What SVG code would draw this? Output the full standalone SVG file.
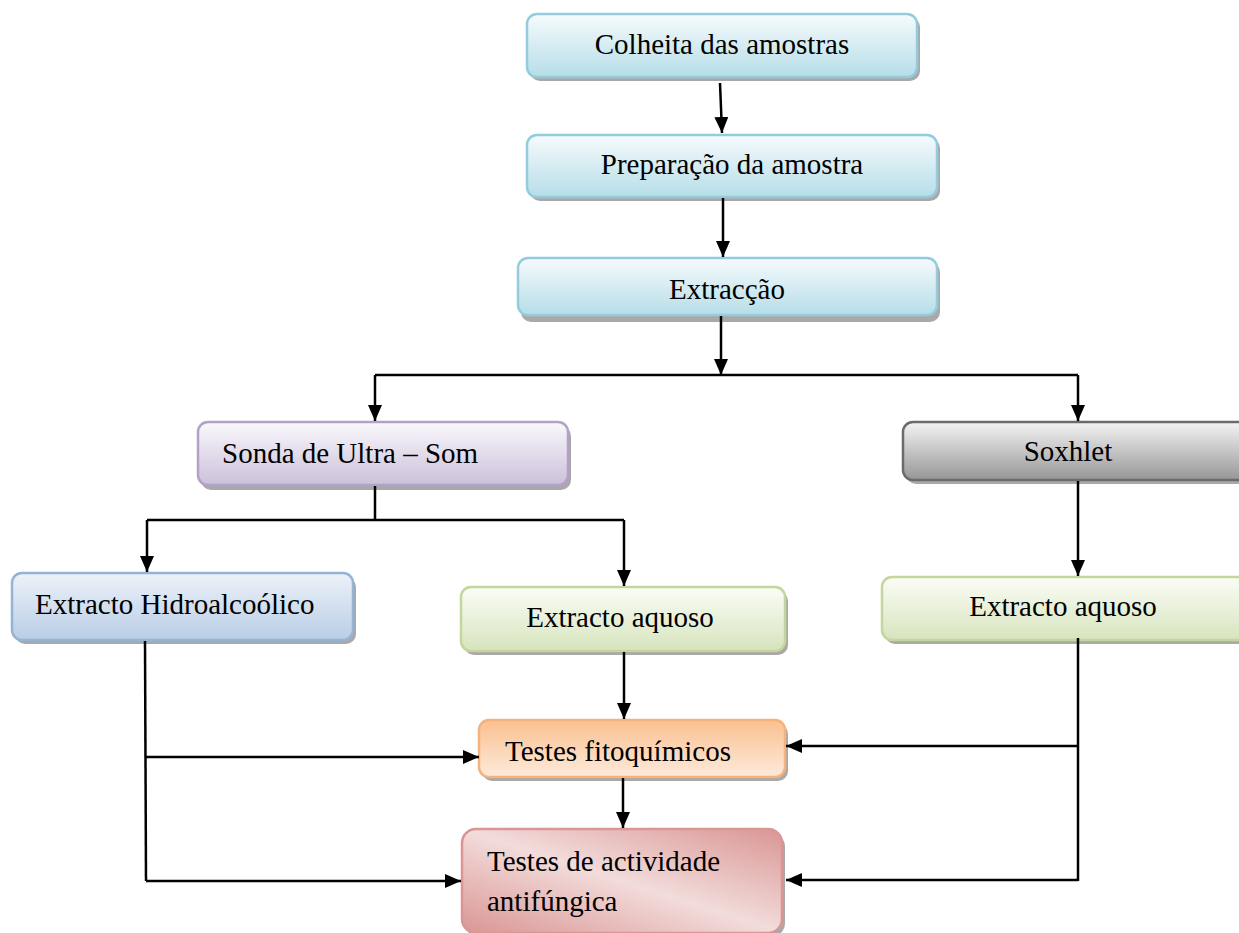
<svg xmlns="http://www.w3.org/2000/svg" width="1239" height="933" viewBox="0 0 1239 933">
<defs>
<linearGradient id="gBlue" x1="0" y1="0" x2="0" y2="1"><stop offset="0" stop-color="#f6fbfd"/><stop offset="1" stop-color="#b6dde8"/></linearGradient>
<linearGradient id="gLav" x1="0" y1="0" x2="0" y2="1"><stop offset="0" stop-color="#faf8fc"/><stop offset="1" stop-color="#cbc0da"/></linearGradient>
<linearGradient id="gGray" x1="0" y1="0" x2="0" y2="1"><stop offset="0" stop-color="#f4f4f4"/><stop offset="1" stop-color="#969696"/></linearGradient>
<linearGradient id="gGreen" x1="0" y1="0" x2="0" y2="1"><stop offset="0" stop-color="#fbfdf7"/><stop offset="1" stop-color="#d7e4bd"/></linearGradient>
<linearGradient id="gSteel" x1="0" y1="0" x2="0" y2="1"><stop offset="0" stop-color="#edf2f9"/><stop offset="1" stop-color="#b9cde5"/></linearGradient>
<linearGradient id="gOrange" x1="0" y1="0" x2="0" y2="1"><stop offset="0" stop-color="#fac08f"/><stop offset="1" stop-color="#fdeadb"/></linearGradient>
<linearGradient id="gPink" x1="1" y1="0" x2="0" y2="1"><stop offset="0" stop-color="#d99694"/><stop offset="0.5" stop-color="#f2dcdb"/><stop offset="1" stop-color="#d99694"/></linearGradient>
<marker id="ah" viewBox="0 0 16 14" refX="16" refY="7" markerWidth="16" markerHeight="14" markerUnits="userSpaceOnUse" orient="auto"><path d="M0,0 L16,7 L0,14 z" fill="#000"/></marker>
</defs>
<style>
.t{font-family:"Liberation Serif","Times New Roman",serif;font-size:29px;fill:#000}
.c{text-anchor:middle}
.sh{fill:#8c8c8c;opacity:0.75}
.b{stroke-width:2.5}
.ln{fill:none;stroke:#000;stroke-width:2.5}
.ar{fill:none;stroke:#000;stroke-width:2.5;marker-end:url(#ah)}
</style>
<rect width="1239" height="933" fill="#fff"/>
<g id="n1">
<rect class="sh" x="530" y="17" width="390" height="64" rx="10"/>
<rect class="b" x="527" y="14" width="390" height="63" rx="10" fill="url(#gBlue)" stroke="#93cddd"/>
<text class="t c" x="722" y="54">Colheita das amostras</text>
</g>
<g id="n2">
<rect class="sh" x="530" y="138" width="410" height="63" rx="10"/>
<rect class="b" x="527" y="135" width="410" height="62" rx="10" fill="url(#gBlue)" stroke="#93cddd"/>
<text class="t c" x="732" y="174">Preparação da amostra</text>
</g>
<g id="n3">
<rect class="sh" x="521" y="262" width="419" height="60" rx="10"/>
<rect class="b" x="518" y="258" width="419" height="57" rx="10" fill="url(#gBlue)" stroke="#93cddd"/>
<text class="t c" x="727" y="299">Extracção</text>
</g>
<g id="n4">
<rect class="sh" x="201" y="426" width="370" height="64" rx="10"/>
<rect class="b" x="198" y="422" width="370" height="63" rx="10" fill="url(#gLav)" stroke="#b3a2c7"/>
<text class="t" x="222" y="463">Sonda de Ultra – Som</text>
</g>
<g id="n5">
<rect class="sh" x="906" y="426" width="350" height="58" rx="10"/>
<rect class="b" x="903" y="422" width="350" height="58" rx="10" fill="url(#gGray)" stroke="#6b6b6b"/>
<text class="t c" x="1068" y="461">Soxhlet</text>
</g>
<g id="n6">
<rect class="sh" x="15" y="577" width="341" height="67" rx="10"/>
<rect class="b" x="12" y="573" width="341" height="67" rx="10" fill="url(#gSteel)" stroke="#95b3d7"/>
<text class="t" x="35" y="614">Extracto Hidroalcoólico</text>
</g>
<g id="n7">
<rect class="sh" x="464" y="591" width="324" height="64" rx="10"/>
<rect class="b" x="461" y="587" width="324" height="64" rx="10" fill="url(#gGreen)" stroke="#c3d69b"/>
<text class="t c" x="620" y="627">Extracto aquoso</text>
</g>
<g id="n8">
<rect class="sh" x="885" y="581" width="370" height="63" rx="10"/>
<rect class="b" x="882" y="577" width="370" height="63" rx="10" fill="url(#gGreen)" stroke="#c3d69b"/>
<text class="t c" x="1063" y="616">Extracto aquoso</text>
</g>
<g id="n9">
<rect class="sh" x="482" y="724" width="306" height="57" rx="10"/>
<rect class="b" x="479" y="720" width="306" height="57" rx="10" fill="url(#gOrange)" stroke="#f5b27c"/>
<text class="t" x="505" y="761">Testes fitoquímicos</text>
</g>
<g id="n10">
<rect class="sh" x="465" y="833" width="320" height="104" rx="14"/>
<rect class="b" x="462" y="829" width="320" height="104" rx="14" fill="url(#gPink)" stroke="#d99694"/>
<text class="t" x="487" y="871">Testes de actividade</text>
<text class="t" x="487" y="911">antifúngica</text>
</g>
<g id="connectors">
<path class="ar" d="M720,83 L722,133"/>
<path class="ar" d="M723,198 L723,257"/>
<path class="ar" d="M721,316 L721,375"/>
<path class="ln" d="M375,375 L1078,375"/>
<path class="ar" d="M375,375 L375,421"/>
<path class="ar" d="M1078,375 L1078,421"/>
<path class="ln" d="M375,486 L375,520 M147,520 L624,520"/>
<path class="ar" d="M147,520 L147,572"/>
<path class="ar" d="M624,520 L624,586"/>
<path class="ar" d="M1078,481 L1078,576"/>
<path class="ar" d="M624,652 L624,719"/>
<path class="ar" d="M623,778 L623,828"/>
<path class="ln" d="M145,641 L146,881"/>
<path class="ar" d="M145,757 L479,757"/>
<path class="ar" d="M146,881 L461,881"/>
<path class="ln" d="M1078,638 L1078,881"/>
<path class="ar" d="M1078,746 L786,746"/>
<path class="ar" d="M1078,880 L786,880"/>
</g>
</svg>
